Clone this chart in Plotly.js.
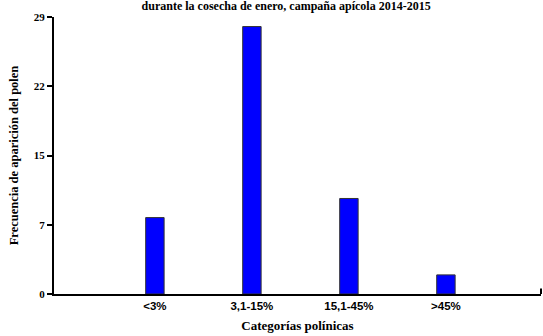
<!DOCTYPE html>
<html>
<head>
<meta charset="utf-8">
<script src="https://cdn.plot.ly/plotly-3.0.1.min.js"></script>
<style>html,body{margin:0;padding:0;background:#fff;}#chart{width:543px;height:336px;}</style>
</head>
<body>
<div id="chart"></div>
<script>
const categories = ["<3%", "3,1-15%", "15,1-45%", ">45%"];
const frequencies = [8, 28, 10, 2];
const yTickVals = [0, 7.25, 14.5, 21.75, 29];
const yTickText = ["0", "7", "15", "22", "29"];
const titleText = "durante la cosecha de enero, campaña apícola 2014-2015";
const xTitle = "Categorías polínicas";
const yTitle = "Frecuencia de aparición del polen";

const serifBold = {family: "Liberation Serif, Times New Roman, serif", weight: "bold", color: "#000"};
const sansBold = {family: "Liberation Sans, Arial, sans-serif", weight: "bold", color: "#000"};

const trace = {
  type: "bar",
  x: categories,
  y: frequencies,
  width: 0.19,
  marker: {color: "#0000FF", line: {color: "#333", width: 1}},
  hoverinfo: "skip"
};

const layout = {
  width: 543, height: 336,
  margin: {l: 54, r: 2, t: 17, b: 42},
  paper_bgcolor: "#fff", plot_bgcolor: "#fff",
  showlegend: false,
  title: {text: titleText, font: Object.assign({size: 12}, serifBold), x: 0.527, xanchor: "center", y: 1, yanchor: "top", pad: {t: 2}},
  xaxis: {
    type: "category",
    range: [-1.04, 3.98],
    showline: true, linecolor: "#000", linewidth: 2,
    ticks: "", showgrid: false, zeroline: false,
    tickfont: Object.assign({size: 11.5}, sansBold),
    title: {text: xTitle, font: Object.assign({size: 13}, serifBold), standoff: 10},
    fixedrange: true
  },
  yaxis: {
    range: [0, 29],
    tickmode: "array", tickvals: yTickVals, ticktext: yTickText,
    showline: true, linecolor: "#000", linewidth: 2,
    ticks: "outside", ticklen: 5, tickwidth: 2, tickcolor: "#000",
    showgrid: false, zeroline: false,
    tickfont: Object.assign({size: 11}, serifBold),
    title: {text: yTitle, font: Object.assign({size: 12.5}, serifBold), standoff: 12},
    fixedrange: true
  },
  shapes: [{type: "line", xref: "paper", yref: "paper", x0: 1, x1: 1, y0: 0, y1: 0.02, line: {color: "#000", width: 2}}]
};

Plotly.newPlot("chart", [trace], layout, {displayModeBar: false, staticPlot: true});
</script>
</body>
</html>
